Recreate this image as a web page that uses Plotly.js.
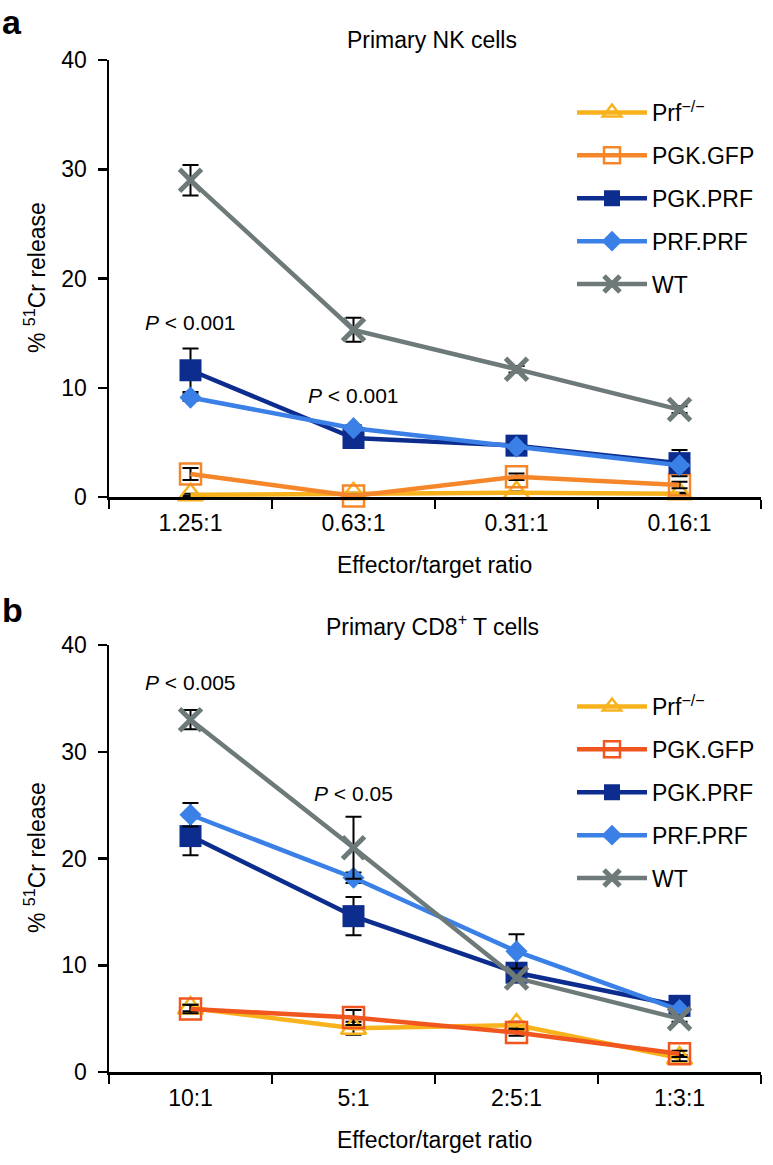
<!DOCTYPE html>
<html>
<head>
<meta charset="utf-8">
<script src="https://cdn.plot.ly/plotly-3.0.1.min.js"></script>
<style>html,body{margin:0;padding:0;background:#fff;}#chart{width:773px;height:1165px;}</style>
</head>
<body>
<div id="chart"></div>
<script>
// ---- data ----
var seriesNames = ['Prf<sup>\u2212/\u2212</sup>', 'PGK.GFP', 'PGK.PRF', 'PRF.PRF', 'WT'];

var catsNK = ['1.25:1', '0.63:1', '0.31:1', '0.16:1'];
var nkPrf    = [0.2, 0.3, 0.4, 0.3];
var nkPrfErr = [0.1, 0.1, 0.1, 0.1];
var nkGfp    = [2.1, 0.1, 1.85, 1.1];
var nkGfpErr = [0.55, 0.1, 0.3, 0.3];
var nkPgk    = [11.6, 5.4, 4.7, 3.1];
var nkPgkErr = [2.0, 0.4, 0.4, 1.2];
var nkPrfPrf    = [9.1, 6.3, 4.6, 2.9];
var nkPrfPrfErr = [0.3, 0.3, 0.3, 0.3];
var nkWt    = [29.0, 15.3, 11.7, 8.0];
var nkWtErr = [1.4, 1.1, 0.3, 0.3];

var catsCD8 = ['10:1', '5:1', '2:5:1', '1:3:1'];
var cdPrf    = [6.0, 4.1, 4.4, 1.3];
var cdPrfErr = [0.3, 0.6, 0.3, 0.3];
var cdGfp    = [5.9, 5.1, 3.7, 1.7];
var cdGfpErr = [0.4, 0.7, 0.3, 0.3];
var cdPgk    = [22.1, 14.6, 9.3, 6.2];
var cdPgkErr = [1.8, 1.8, 0.4, 0.3];
var cdPrfPrf    = [24.1, 18.2, 11.3, 5.8];
var cdPrfPrfErr = [1.1, 0.5, 1.6, 0.3];
var cdWt    = [33.0, 21.0, 8.8, 5.0];
var cdWtErr = [0.9, 2.9, 0.3, 0.3];

var yTicks = [0, 10, 20, 30, 40];

// p-value labels: [category index, y value, text]
var nkPLabels  = [[0, 16.0, '<i>P</i> < 0.001'], [1, 9.3, '<i>P</i> < 0.001']];
var cd8PLabels = [[0, 36.5, '<i>P</i> < 0.005'], [1, 26.1, '<i>P</i> < 0.05']];

// ---- styles ----
var FONT = 'Liberation Sans, Arial, Helvetica, sans-serif';
var cPrf = '#F7B21C', cGfpNK = '#F5862A', cGfpCD = '#F0561E', cPgk = '#0C2D8E', cPrfPrf = '#3A80E6', cWt = '#6E7A7A';

function mk(x, y, err, name, color, symbol, size, xa, ya, leg, grp, lw) {
  return {
    type: 'scatter', mode: 'lines+markers', x: x, y: y, name: name,
    xaxis: xa, yaxis: ya, legend: leg, legendgroup: grp, cliponaxis: false,
    line: {color: color, width: 4.5},
    marker: {symbol: symbol, size: size, color: color,
             line: {color: color, width: lw}},
    error_y: {type: 'data', array: err, visible: true, color: '#000', thickness: 2, width: 8}
  };
}

var traces = [
  mk(catsNK, nkPrf, nkPrfErr, seriesNames[0], cPrf, 'triangle-up-open', 22, 'x', 'y', 'legend', 'a1', 2.5),
  mk(catsNK, nkGfp, nkGfpErr, seriesNames[1], cGfpNK, 'square-open', 21, 'x', 'y', 'legend', 'a2', 2.5),
  mk(catsNK, nkPgk, nkPgkErr, seriesNames[2], cPgk, 'square', 22, 'x', 'y', 'legend', 'a3', 0),
  mk(catsNK, nkPrfPrf, nkPrfPrfErr, seriesNames[3], cPrfPrf, 'diamond', 17, 'x', 'y', 'legend', 'a4', 0),
  mk(catsNK, nkWt, nkWtErr, seriesNames[4], cWt, 'x-thin', 22, 'x', 'y', 'legend', 'a5', 5),
  mk(catsCD8, cdPrf, cdPrfErr, seriesNames[0], cPrf, 'triangle-up-open', 22, 'x2', 'y2', 'legend2', 'b1', 2.5),
  mk(catsCD8, cdGfp, cdGfpErr, seriesNames[1], cGfpCD, 'square-open', 21, 'x2', 'y2', 'legend2', 'b2', 2.5),
  mk(catsCD8, cdPgk, cdPgkErr, seriesNames[2], cPgk, 'square', 22, 'x2', 'y2', 'legend2', 'b3', 0),
  mk(catsCD8, cdPrfPrf, cdPrfPrfErr, seriesNames[3], cPrfPrf, 'diamond', 17, 'x2', 'y2', 'legend2', 'b4', 0),
  mk(catsCD8, cdWt, cdWtErr, seriesNames[4], cWt, 'x-thin', 22, 'x2', 'y2', 'legend2', 'b5', 5)
];

var W = 773, H = 1165;
function px(v) { return v / W; }
function py(v) { return 1 - v / H; }

function xAxis(cats, anchor) {
  return {
    type: 'category', categoryorder: 'array', categoryarray: cats,
    domain: [px(109), px(761)], range: [-0.5, 3.5], anchor: anchor,
    showline: true, linecolor: '#000', linewidth: 2.5,
    ticks: 'outside', tickson: 'boundaries', ticklen: 9, tickwidth: 2.5, tickcolor: '#000',
    showgrid: false, zeroline: false, fixedrange: true,
    tickfont: {family: FONT, size: 23, color: '#000'}, ticklabelstandoff: 4
  };
}
function yAxis(dom, anchor) {
  return {
    domain: dom, range: [0, 40], tickvals: yTicks, anchor: anchor,
    showline: true, linecolor: '#000', linewidth: 2.5,
    ticks: 'outside', ticklen: 9, tickwidth: 2.5, tickcolor: '#000',
    showgrid: false, zeroline: false, fixedrange: true,
    tickfont: {family: FONT, size: 23, color: '#000'}, ticklabelstandoff: 6
  };
}

var ann = [];
function txt(x, y, text, size, extra) {
  var a = {xref: 'paper', yref: 'paper', x: x, y: y, text: text, showarrow: false,
           font: {family: FONT, size: size, color: '#000'}};
  for (var k in extra) a[k] = extra[k];
  ann.push(a);
}
txt(0, py(22), '<b>a</b>', 34, {xanchor: 'left', yanchor: 'middle'});
txt(0, py(610), '<b>b</b>', 34, {xanchor: 'left', yanchor: 'middle'});
txt(px(432), py(40), 'Primary NK cells', 23, {xanchor: 'center', yanchor: 'middle'});
txt(px(432), py(625), 'Primary CD8<sup>+</sup> T cells', 23, {xanchor: 'center', yanchor: 'middle'});
txt(px(435), py(565), 'Effector/target ratio', 23, {xanchor: 'center', yanchor: 'middle'});
txt(px(435), py(1140), 'Effector/target ratio', 23, {xanchor: 'center', yanchor: 'middle'});
txt(px(35), py(278), '% <sup>51</sup>Cr release', 23, {xanchor: 'center', yanchor: 'middle', textangle: -90});
txt(px(35), py(858), '% <sup>51</sup>Cr release', 23, {xanchor: 'center', yanchor: 'middle', textangle: -90});

nkPLabels.forEach(function (p) {
  ann.push({xref: 'x', yref: 'y', x: catsNK[p[0]], y: p[1], text: p[2], showarrow: false,
            xanchor: 'center', yanchor: 'middle', font: {family: FONT, size: 21, color: '#000'}});
});
cd8PLabels.forEach(function (p) {
  ann.push({xref: 'x2', yref: 'y2', x: catsCD8[p[0]], y: p[1], text: p[2], showarrow: false,
            xanchor: 'center', yanchor: 'middle', font: {family: FONT, size: 21, color: '#000'}});
});

function legendCfg(ytop) {
  return {x: px(572), y: ytop, xanchor: 'left', yanchor: 'top', bgcolor: 'rgba(0,0,0,0)',
          borderwidth: 0, traceorder: 'grouped', tracegroupgap: 10, itemwidth: 70,
          itemclick: false, itemdoubleclick: false,
          font: {family: FONT, size: 23, color: '#000'}};
}

var layout = {
  width: W, height: H, margin: {l: 0, r: 0, t: 0, b: 0},
  paper_bgcolor: '#fff', plot_bgcolor: 'rgba(0,0,0,0)',
  font: {family: FONT, color: '#000'},
  showlegend: true,
  xaxis: xAxis(catsNK, 'y'),
  yaxis: yAxis([py(497), py(60)], 'x'),
  xaxis2: xAxis(catsCD8, 'y2'),
  yaxis2: yAxis([py(1072), py(645)], 'x2'),
  legend: legendCfg(py(91)),
  legend2: legendCfg(py(685)),
  annotations: ann
};

Plotly.newPlot('chart', traces, layout, {displayModeBar: false, staticPlot: true});
</script>
</body>
</html>
